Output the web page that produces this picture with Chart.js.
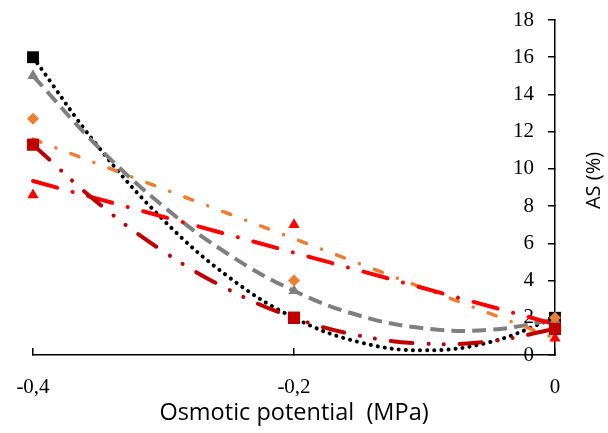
<!DOCTYPE html>
<html lang="en">
<head>
    <meta charset="UTF-8">
    <title>AS vs osmotic potential</title>
    <script src="https://cdn.jsdelivr.net/npm/chart.js"></script>
    <style>
        body {
            margin: 0;
            background: #ffffff;
        }
        .chart-box {
            width: 608px;
            height: 433px;
        }
    </style>
</head>
<body>
    <div class="chart-box">
        <canvas id="asChart"></canvas>
    </div>

    <script>
        // measured points (MPa, %)
        const potentials = [-0.4, -0.2, 0];
        const blackValues = [16, 2, 2];
        const grayValues = [15, 3.45, 1.9];
        const orangeValues = [12.7, 4, 2];
        const darkRedValues = [11.3, 2, 1.4];
        const redValues = [8.6, 7, 0.9];

        // trend lines
        const curveX = [-0.4, -0.35, -0.3, -0.25, -0.2, -0.15, -0.1, -0.05, 0];
        const blackCurve = [16, 11.19, 7.25, 4.19, 2, 0.69, 0.25, 0.69, 2];
        const grayCurve = [15, 11.17, 7.98, 5.4, 3.45, 2.12, 1.43, 1.35, 1.9];
        const darkRedCurve = [11.3, 8.16, 5.56, 3.51, 2, 1.04, 0.61, 0.73, 1.4];
        const straightX = [-0.4, 0];
        const orangeLine = [11.6, 0.9];
        const redLine = [9.35, 1.65];

        const xTickLabels = ['-0,4', '-0,2', '0'];
        const xTitle = 'Osmotic potential  (MPa)';
        const yTitle = 'AS (%)';

        function toXY(xs, ys) {
            return xs.map(function(x, i) { return { x: x, y: ys[i] }; });
        }

        function pointSet(values, color, style, radius) {
            return {
                data: toXY(potentials, values),
                showLine: false,
                pointStyle: style,
                pointRadius: radius,
                pointBackgroundColor: color,
                pointBorderColor: color,
                pointBorderWidth: 0,
                clip: false
            };
        }

        function trendSet(xs, values, color, width, dash, cap, tension) {
            return {
                data: toXY(xs, values),
                showLine: true,
                borderColor: color,
                borderWidth: width,
                borderDash: dash,
                borderCapStyle: cap,
                tension: tension,
                pointRadius: 0,
                clip: false
            };
        }

        // y axis title reads bottom to top, draw it here
        const yTitlePlugin = {
            id: 'yTitle',
            afterDraw(chart) {
                const ctx = chart.ctx;
                const area = chart.chartArea;
                ctx.save();
                ctx.translate(area.right + 39, (area.top + area.bottom) / 2 - 7);
                ctx.rotate(-Math.PI / 2);
                ctx.font = '20px "Open Sans"';
                ctx.fillStyle = '#000000';
                ctx.textAlign = 'center';
                ctx.textBaseline = 'middle';
                ctx.fillText(yTitle, 0, 0);
                ctx.restore();
            }
        };

        const config = {
            type: 'scatter',
            data: {
                datasets: [
                    pointSet(darkRedValues, '#c00000', 'rect', 8.6),
                    pointSet(redValues, '#ff0000', 'triangle', 6.5),
                    pointSet(orangeValues, '#ed7d31', 'rectRot', 6),
                    pointSet(grayValues, '#7f7f7f', 'triangle', 6.5),
                    pointSet(blackValues, '#000000', 'rect', 8.4),
                    trendSet(curveX, darkRedCurve, '#c00000', 4, [22, 16, 0.1, 15, 0.1, 16], 'round', 0.4),
                    trendSet(straightX, redLine, '#ff0000', 4, [25, 16, 0.1, 16], 'round', 0),
                    trendSet(straightX, orangeLine, '#ed7d31', 3.5, [8.5, 16, 0.1, 16], 'round', 0),
                    trendSet(curveX, grayCurve, '#7f7f7f', 4, [14, 7], 'butt', 0.4),
                    trendSet(curveX, blackCurve, '#000000', 4, [0.1, 7], 'round', 0.4)
                ]
            },
            options: {
                responsive: true,
                maintainAspectRatio: false,
                animation: false,
                layout: {
                    padding: { left: 33, top: 20, right: 0, bottom: 0 }
                },
                plugins: {
                    legend: { display: false },
                    tooltip: { enabled: false }
                },
                scales: {
                    x: {
                        type: 'linear',
                        position: 'bottom',
                        min: -0.4,
                        max: 0,
                        afterFit: function(scale) {
                            scale.height = 78;
                            scale.paddingLeft = 0;
                            scale.paddingRight = 0;
                        },
                        ticks: {
                            stepSize: 0.2,
                            padding: 27,
                            color: '#000000',
                            font: { family: '"Liberation Serif"', size: 21 },
                            callback: function(value, index) {
                                return xTickLabels[index];
                            }
                        },
                        grid: {
                            drawOnChartArea: false,
                            drawTicks: true,
                            tickLength: -7,
                            color: '#000000',
                            lineWidth: 1.5
                        },
                        border: { color: '#000000', width: 1.5 },
                        title: {
                            display: true,
                            text: xTitle,
                            color: '#000000',
                            font: { family: '"Open Sans"', size: 23.5 },
                            padding: { top: 0, bottom: 6 }
                        }
                    },
                    y: {
                        type: 'linear',
                        position: 'right',
                        min: 0,
                        max: 18,
                        afterFit: function(scale) {
                            scale.width = 53;
                            scale.paddingTop = 0;
                            scale.paddingBottom = 0;
                        },
                        ticks: {
                            stepSize: 2,
                            mirror: true,
                            padding: -21,
                            color: '#000000',
                            font: { family: '"Liberation Serif"', size: 21 }
                        },
                        grid: {
                            drawOnChartArea: false,
                            drawTicks: true,
                            tickLength: -7,
                            color: '#000000',
                            lineWidth: 1.5
                        },
                        border: { color: '#000000', width: 1.5 }
                    }
                }
            },
            plugins: [yTitlePlugin]
        };

        new Chart(document.getElementById('asChart'), config);
    </script>
</body>
</html>
